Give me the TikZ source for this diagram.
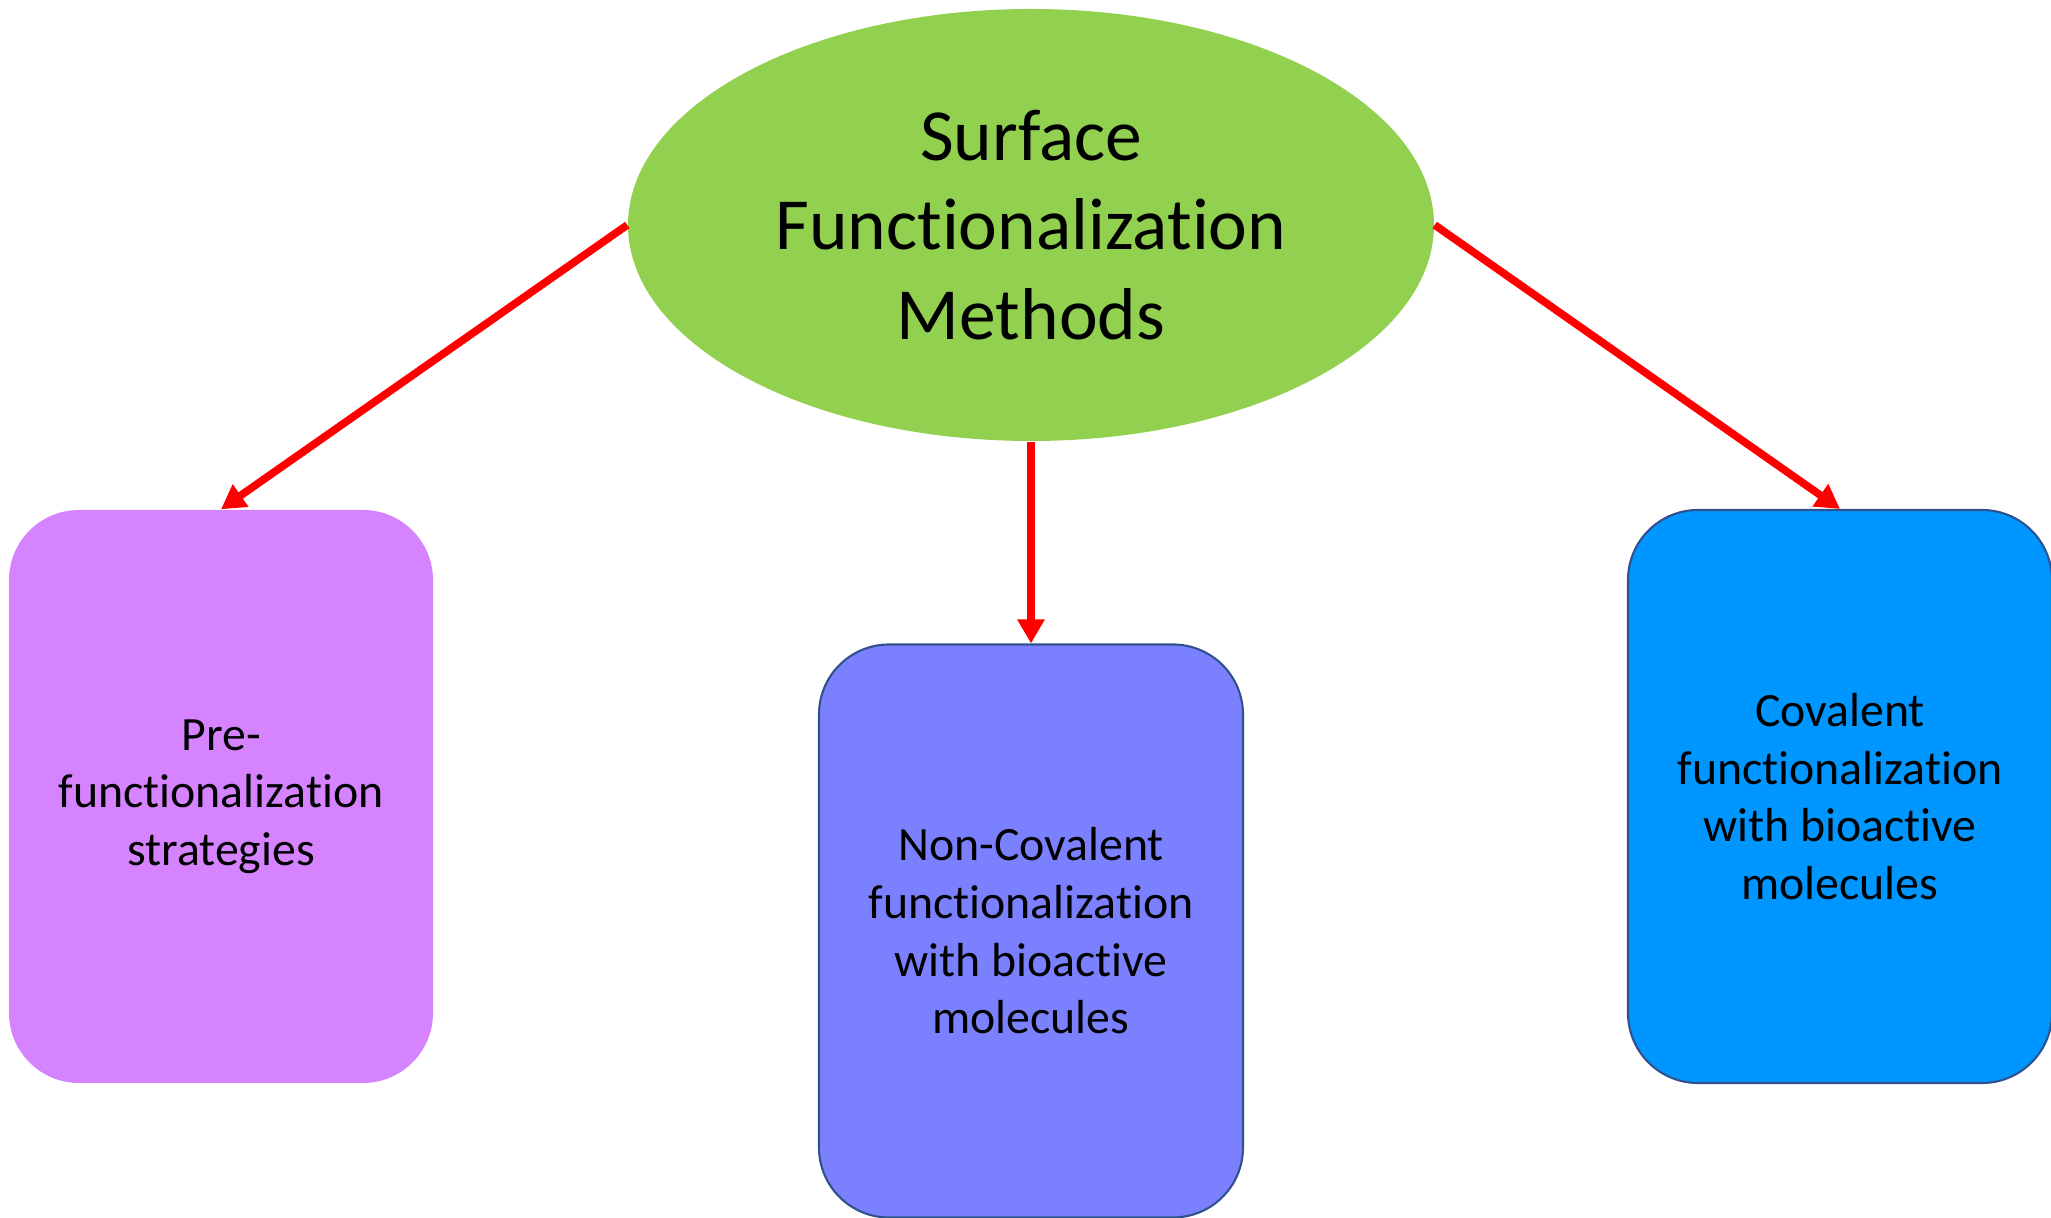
\documentclass[tikz,border=0pt]{standalone}
\usepackage{fontspec}
\setmainfont{Carlito}[Ligatures=NoCommon]
\usepackage{xcolor}
\usepackage{tikz}
\usetikzlibrary{arrows.meta}
\usetikzlibrary{shapes}
\definecolor{leafgreen}{HTML}{92D050}
\definecolor{lilac}{HTML}{D683FF}
\definecolor{periwinkle}{HTML}{7B80FF}
\definecolor{skyblue}{HTML}{0096FF}
\definecolor{edgeblue}{HTML}{2F528F}
\tikzstyle{arrow} = [line width=2.2pt, red, -{Triangle[length=0.24cm, width=0.26cm]}]
\tikzstyle{branch} = [rectangle, rounded corners=0.7cm, minimum width=4.24cm, minimum height=5.73cm, inner sep=0pt, align=center, font=\fontsize{13.6}{16.4}\selectfont]

\begin{document}
\begin{tikzpicture}
            \useasboundingbox (0,0) rectangle (20.51,12.18);

            \node[ellipse, fill=leafgreen, minimum width=8.06cm, minimum height=4.32cm, inner sep=0pt, align=center, font=\fontsize{20.9}{25.5}\selectfont] (sfm) at (10.31,9.93) {Surface\\Functionalization\\Methods};

            \node[branch, fill=lilac] (pre) at (2.21,4.215) {Pre-\\functionalization\\strategies};
            \node[branch, fill=periwinkle, draw=edgeblue, line width=0.6pt] (noncov) at (10.31,2.87) {Non-Covalent\\functionalization\\with bioactive\\molecules};
            \node[branch, fill=skyblue, draw=edgeblue, line width=0.6pt] (cov) at (18.40,4.215) {Covalent\\functionalization\\with bioactive\\molecules};

            \draw[arrow] (sfm.west) -- (pre.north);
            \draw[arrow] (sfm.south) -- (noncov.north);
            \draw[arrow] (sfm.east) -- (cov.north);
        \end{tikzpicture}
\end{document}
